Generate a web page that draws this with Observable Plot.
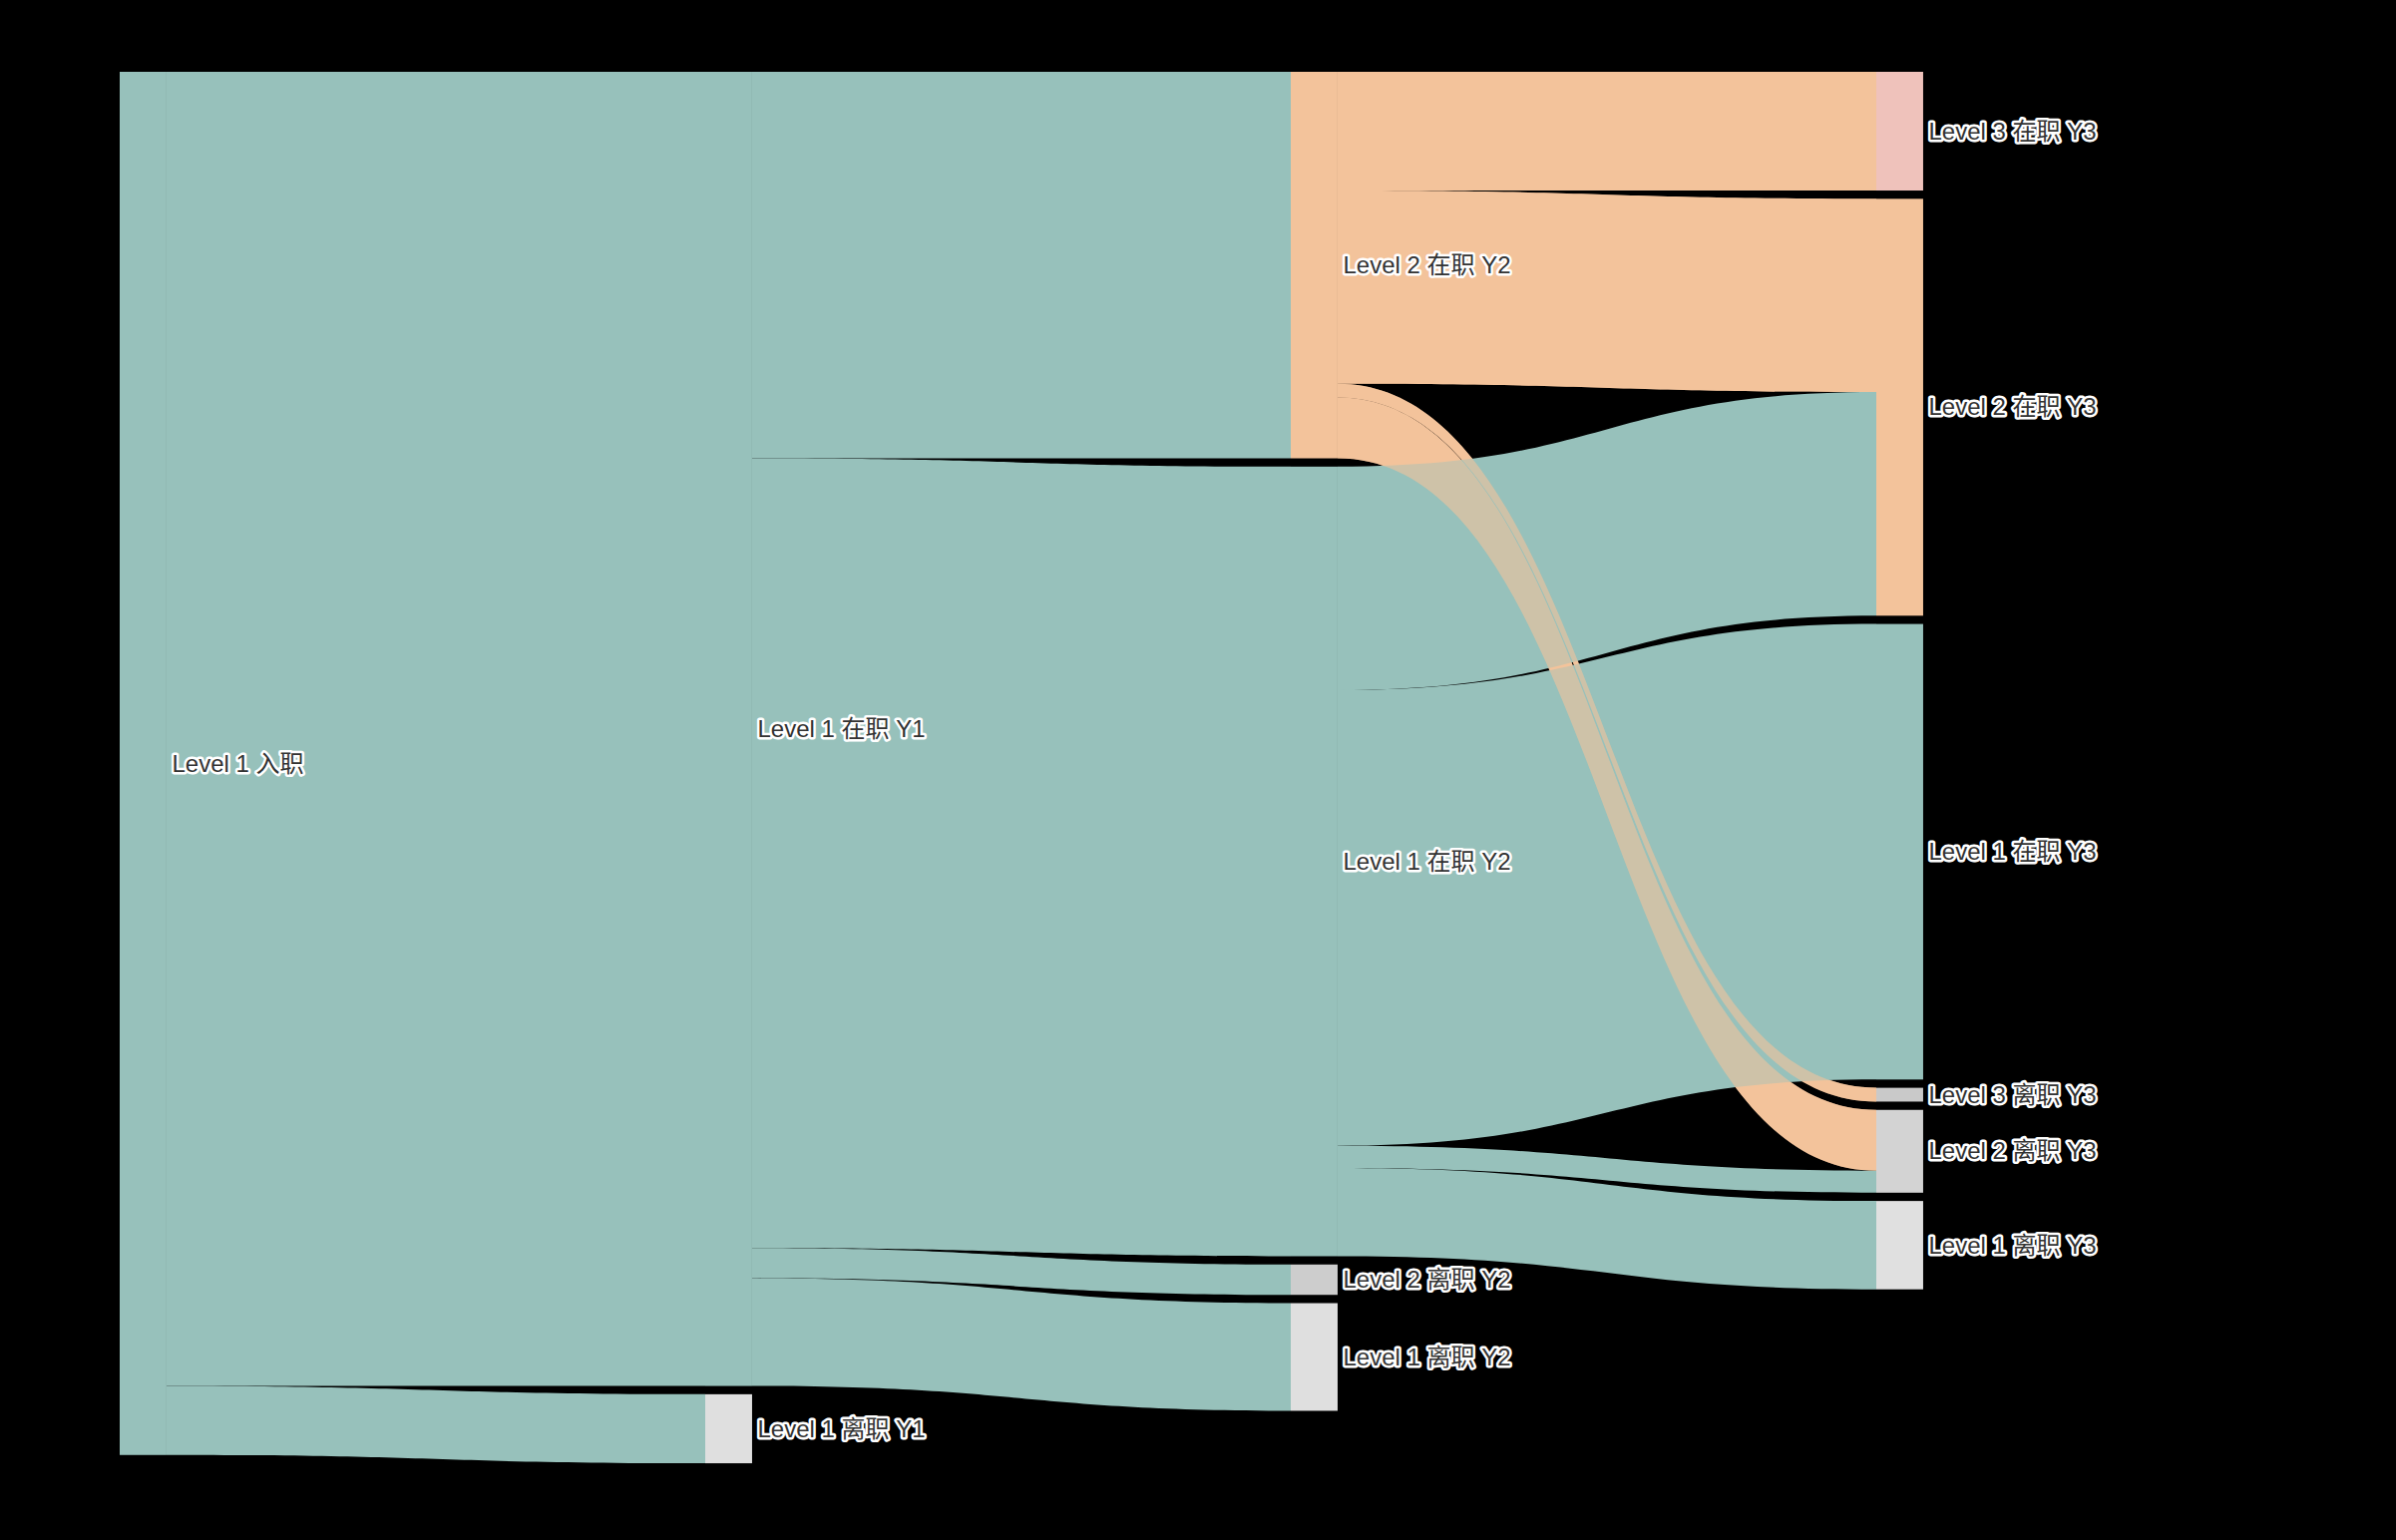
<!DOCTYPE html>
<html>
<head>
<meta charset="utf-8">
<script src="https://cdn.jsdelivr.net/npm/d3@7"></script>
<script src="https://cdn.jsdelivr.net/npm/@observablehq/plot@0.6"></script>
<style>
  html, body { margin: 0; padding: 0; background: #000; }
  #chart svg text { paint-order: stroke; }
</style>
</head>
<body>
<div id="chart"></div>
<script>
// nodes, top to bottom inside each column
const nodeNames = [
  'Level 1 入职',
  'Level 1 在职 Y1', 'Level 1 离职 Y1',
  'Level 2 在职 Y2', 'Level 1 在职 Y2', 'Level 2 离职 Y2', 'Level 1 离职 Y2',
  'Level 3 在职 Y3', 'Level 2 在职 Y3', 'Level 1 在职 Y3',
  'Level 3 离职 Y3', 'Level 2 离职 Y3', 'Level 1 离职 Y3',
]

// flows
const linkSource = [
  'Level 1 入职', 'Level 1 入职',
  'Level 1 在职 Y1', 'Level 1 在职 Y1', 'Level 1 在职 Y1', 'Level 1 在职 Y1',
  'Level 2 在职 Y2', 'Level 2 在职 Y2', 'Level 2 在职 Y2', 'Level 2 在职 Y2',
  'Level 1 在职 Y2', 'Level 1 在职 Y2', 'Level 1 在职 Y2', 'Level 1 在职 Y2',
]
const linkTarget = [
  'Level 1 在职 Y1', 'Level 1 离职 Y1',
  'Level 2 在职 Y2', 'Level 1 在职 Y2', 'Level 2 离职 Y2', 'Level 1 离职 Y2',
  'Level 3 在职 Y3', 'Level 2 在职 Y3', 'Level 3 离职 Y3', 'Level 2 离职 Y3',
  'Level 2 在职 Y3', 'Level 1 在职 Y3', 'Level 2 离职 Y3', 'Level 1 离职 Y3',
]
const linkValue = [
  952, 50,
  280, 572, 22, 78,
  86, 140, 10, 44,
  162, 330, 16, 64,
]

// colours per node (style)
const nodeColor = {
  'Level 1 入职': '#97c1bb',
  'Level 1 在职 Y1': '#97c1bb',
  'Level 1 离职 Y1': '#dfdfdf',
  'Level 2 在职 Y2': '#f3c39b',
  'Level 1 在职 Y2': '#97c1bb',
  'Level 2 离职 Y2': '#cdcdcd',
  'Level 1 离职 Y2': '#dfdfdf',
  'Level 3 在职 Y3': '#efc2bb',
  'Level 2 在职 Y3': '#f3c39b',
  'Level 1 在职 Y3': '#97c1bb',
  'Level 3 离职 Y3': '#c9c9c9',
  'Level 2 离职 Y3': '#d3d3d3',
  'Level 1 离职 Y3': '#e0e0e0',
}

const nodePadding = 6   // in value units
const nodeW = 0.08      // in column units

// --- sankey layout in data units
const nodes = nodeNames.map((name, i) => ({name, index: i, inLinks: [], outLinks: [], depth: 0}))
const byName = new Map(nodes.map(n => [n.name, n]))
const links = linkValue.map((v, i) => ({
  id: i,
  source: byName.get(linkSource[i]),
  target: byName.get(linkTarget[i]),
  value: v,
}))
links.forEach(l => { l.source.outLinks.push(l); l.target.inLinks.push(l) })
nodes.forEach(n => {
  n.value = Math.max(d3.sum(n.inLinks, l => l.value), d3.sum(n.outLinks, l => l.value))
})
for (let k = 0; k < nodes.length; k++) {
  links.forEach(l => { l.target.depth = Math.max(l.target.depth, l.source.depth + 1) })
}
d3.groups(nodes, n => n.depth).forEach(([, col]) => {
  let y = 0
  col.forEach(n => { n.y0 = y; n.y1 = y + n.value; y = n.y1 + nodePadding })
})
nodes.forEach(n => {
  let y = n.y0
  n.outLinks.sort((a, b) => a.target.y0 - b.target.y0)
    .forEach(l => { l.sy0 = y; l.sy1 = y + l.value; y = l.sy1 })
  y = n.y0
  n.inLinks.sort((a, b) => a.source.y0 - b.source.y0)
    .forEach(l => { l.ty0 = y; l.ty1 = y + l.value; y = l.ty1 })
})

const linkEnds = l => [
  {id: l.id, x: l.source.depth + nodeW, y1: l.sy0, y2: l.sy1, color: nodeColor[l.source.name]},
  {id: l.id, x: l.target.depth, y1: l.ty0, y2: l.ty1, color: nodeColor[l.source.name]},
]
// level 2 flows are drawn over the level 1 ones
const overLinks = links.filter(l => l.source.name.startsWith('Level 2')).flatMap(linkEnds)
const underLinks = links.filter(l => !l.source.name.startsWith('Level 2')).flatMap(linkEnds)

let chart = Plot.plot({
  width: 2402,
  height: 1544,
  marginLeft: 120,
  marginRight: 521,
  marginTop: 72,
  marginBottom: 88,
  style: {background: '#000'},
  x: {domain: [0, 3], axis: null},
  y: {domain: [0, 1000], reverse: true, axis: null},
  color: {type: 'identity'},
  marks: [
    Plot.areaY(overLinks, {x: 'x', y1: 'y1', y2: 'y2', z: 'id', fill: 'color', curve: 'bump-x'}),
    Plot.areaY(underLinks, {x: 'x', y1: 'y1', y2: 'y2', z: 'id', fill: 'color', curve: 'bump-x'}),
    Plot.areaY(overLinks, {x: 'x', y1: 'y1', y2: 'y2', z: 'id', fill: 'color', fillOpacity: 0.6, curve: 'bump-x'}),
    Plot.rect(nodes, {
      x1: 'depth',
      x2: d => d.depth + nodeW,
      y1: 'y0',
      y2: 'y1',
      fill: d => nodeColor[d.name],
    }),
    Plot.text(nodes, {
      x: d => d.depth + nodeW,
      y: d => (d.y0 + d.y1) / 2,
      text: 'name',
      textAnchor: 'start',
      dx: 5,
      fill: '#333',
      stroke: 'white',
      strokeWidth: 5,
      fontSize: 24,
      fontFamily: '"Liberation Sans", "Noto Sans CJK SC", sans-serif',
    }),
  ],
})
d3.select('#chart').append(() => chart)
</script>
</body>
</html>
